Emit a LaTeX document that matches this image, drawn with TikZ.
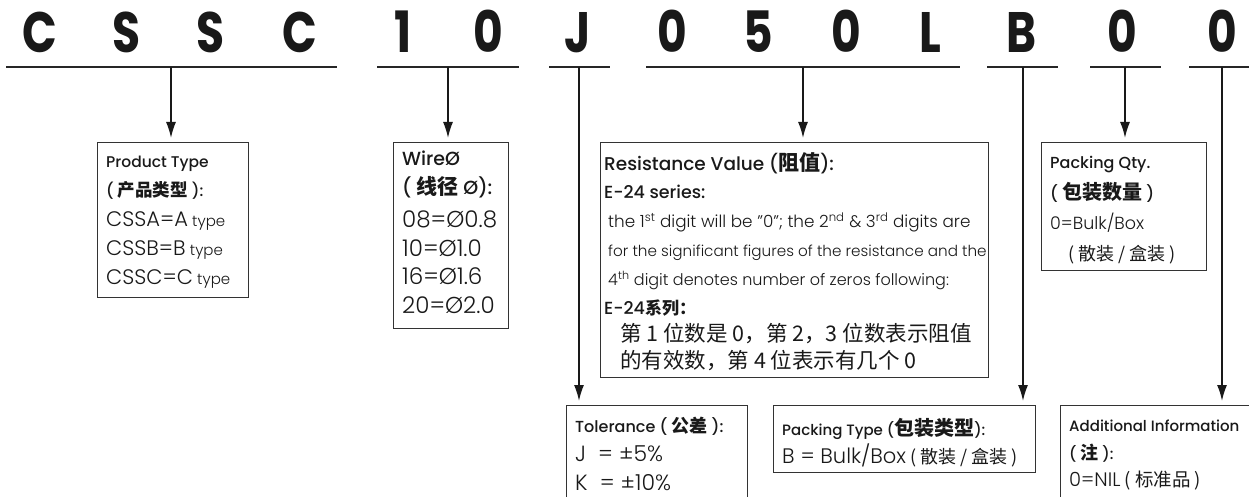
\documentclass[tikz,border=0pt]{standalone}
\usepackage{fontspec}
\usetikzlibrary{arrows.meta}
\setmainfont{Poppins}[UprightFont=* Light, BoldFont=* Medium]
\newfontfamily\codefont{Poppins}[UprightFont=* Bold, FakeStretch=0.8]
\newfontfamily\cjk{Noto Sans CJK SC}
\newfontfamily\cjkb{Noto Sans CJK SC}[UprightFont=* Medium]
\newcommand\zh[1]{{\cjk #1}}
\newcommand\zhb[2]{{\cjkb\fontsize{#1}{#1}\selectfont #2}}
\newcommand\hd[1]{{\bfseries #1}}
\newcommand\fsz[2]{\fontsize{#1}{#2}\selectfont}
\tikzset{
  codeletter/.style={font=\codefont\fontsize{57}{57}\selectfont, anchor=base, inner sep=0, text=black!90},
  codebar/.style={line width=2pt, draw=black!85},
  stemline/.style={line width=1.6pt, draw=black!90, -{Latex[length=16pt,width=10pt]}, shorten >=4pt},
  infobox/.style={draw=black!80, line width=1.2pt, anchor=north west, inner sep=0, fill=white},
  infotext/.style={anchor=north west, inner sep=0, align=left, text=black!90},
}
\begin{document}
\begin{tikzpicture}[x=1pt, y=-1pt]
\path[use as bounding box, fill=white] (0,0) rectangle (1249,497);
\clip (0,0) rectangle (1249,497);
% code letters
\node[codeletter] (l1) at (40,53) {C};
\node[codeletter] (l2) at (127,53) {S};
\node[codeletter] (l3) at (211,53) {S};
\node[codeletter] (l4) at (300,53) {C};
\node[codeletter] (l5) at (403,53) {1};
\node[codeletter] (l6) at (488,53) {0};
\node[codeletter] (l7) at (578,53) {J};
\node[codeletter] (l8) at (672,53) {0};
\node[codeletter] (l9) at (758,53) {5};
\node[codeletter] (l10) at (846,53) {0};
\node[codeletter] (l11) at (930,53) {L};
\node[codeletter] (l12) at (1022,53) {B};
\node[codeletter] (l13) at (1122,53) {0};
\node[codeletter] (l14) at (1222,53) {0};
% bars
\draw[codebar] (6,67) -- (337,67);
\draw[codebar] (377,67) -- (519,67);
\draw[codebar] (549,67) -- (610,67);
\draw[codebar] (646,67) -- (960,67);
\draw[codebar] (987,67) -- (1058,67);
\draw[codebar] (1090,67) -- (1161,67);
\draw[codebar] (1189,67) -- (1260,67);
\coordinate (s1) at (171,67);
\coordinate (s2) at (448,67);
\coordinate (s3) at (579,67);
\coordinate (s4) at (803,67);
\coordinate (s5) at (1023,67);
\coordinate (s6) at (1125,67);
\coordinate (s7) at (1222,67);
% boxes
\node[infobox, minimum width=151pt, minimum height=155pt] (ptype) at (97,142) {};
\node[infobox, minimum width=115pt, minimum height=186pt] (wire) at (393,142) {};
\node[infobox, minimum width=388pt, minimum height=235pt] (resist) at (600,142) {};
\node[infobox, minimum width=165pt, minimum height=128pt] (pqty) at (1041,142) {};
\node[infobox, minimum width=181pt, minimum height=120pt] (tol) at (566,405) {};
\node[infobox, minimum width=262pt, minimum height=67pt] (pack) at (773,405) {};
\node[infobox, minimum width=220pt, minimum height=120pt] (addl) at (1060,405) {};
% stems
\draw[stemline] (s1) -- (s1 |- ptype.north);
\draw[stemline] (s2) -- (s2 |- wire.north);
\draw[stemline] (s3) -- (s3 |- tol.north);
\draw[stemline] (s4) -- (s4 |- resist.north);
\draw[stemline] (s5) -- (s5 |- pack.north);
\draw[stemline] (s6) -- (s6 |- pqty.north);
\draw[stemline] (s7) -- (s7 |- addl.north);
% texts
\node[infotext, font=\fsz{15.5}{29.3}] (tptype) at (106,156) {\hd{Product Type}\\
\hd{( \zhb{17.5}{产品类型} ):}\\
{\fsz{21}{21}CSSA=A} {\fsz{15}{15}type}\\
{\fsz{21}{21}CSSB=B} {\fsz{15}{15}type}\\
{\fsz{21}{21}CSSC=C} {\fsz{15}{15}type}};
\node[infotext, font=\fsz{19}{28.5}] (twire) at (402,151) {\hd{WireØ}\\
\hd{( \zhb{21}{线径} Ø):}\\[5pt]
{\fsz{23}{23}08=Ø0.8}\\
{\fsz{23}{23}10=Ø1.0}\\
{\fsz{23}{23}16=Ø1.6}\\
{\fsz{23}{23}20=Ø2.0}};
\node[infotext, font=\fsz{16}{28.9}] (tresist) at (604,152) {{\fsz{18.5}{18.5}\hd{Resistance Value (\zhb{21}{阻值}):}}\\
{\fsz{17.5}{17.5}\hd{E-24 series:}}\\
\hspace*{4pt}{\fsz{16.8}{16.8}the 1\textsuperscript{st} digit will be "0"; the 2\textsuperscript{nd} \& 3\textsuperscript{rd} digits are}\\
\hspace*{4pt}{\fsz{15.2}{15.2}for the significant figures of the resistance and the}\\
\hspace*{4pt}{\fsz{16}{16}4\textsuperscript{th} digit denotes number of zeros following:}\\
{\fsz{17.5}{17.5}\hd{E-24\zhb{17}{系列：}}}\\[-2pt]
\hspace*{16pt}{\cjk\fsz{21.5}{27}第 1 位数是 0，第 2，3 位数表示阻值}\\[-2pt]
\hspace*{16pt}{\cjk\fsz{21.5}{27}的有效数，第 4 位表示有几个 0}};
\node[infotext, font=\fsz{16}{30.5}] (tpqty) at (1050,156) {\hd{Packing Qty.}\\
\hd{( \zhb{20}{包装数量} )}\\
{\fsz{17.5}{17.5}0=Bulk/Box}\\
\hspace*{18pt}{\cjk\fsz{18}{18}( 散装 / 盒装 )}};
\node[infotext, font=\fsz{16}{29}] (ttol) at (575,417) {\hd{Tolerance ( \zhb{18}{公差} ):}\\
{\fsz{22}{22}J \ = ±5\%}\\
{\fsz{22}{22}K \ = ±10\%}};
\node[infotext, font=\fsz{15}{28}] (tpack) at (782,418) {\hd{Packing Type (\zhb{20}{包装类型}):}\\
{\fsz{21}{21}B = Bulk/Box}{\cjk\fsz{18}{18} ( 散装 / 盒装 )}};
\node[infotext, font=\fsz{15}{27.5}] (taddl) at (1069,420) {\hd{Additional Information}\\
\hd{( \zhb{18}{注} ):}\\
{\fsz{19.5}{19.5}0=NIL}{\cjk\fsz{18.5}{18.5} ( 标准品 )}};
\end{tikzpicture}
\end{document}
